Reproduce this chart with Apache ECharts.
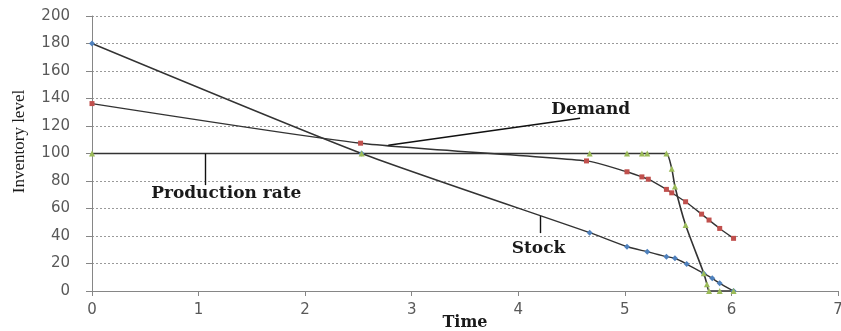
<!DOCTYPE html>
<html><head><meta charset="utf-8">
<script src="https://cdn.jsdelivr.net/npm/echarts@6/dist/echarts.min.js"></script>
<style>html,body{margin:0;padding:0;background:#fff}#c{width:841px;height:331px}</style>
</head><body><div id="c"></div>
<script>
// Data (Time, Inventory level)
const stockX = [0, 2.53, 4.67, 5.02, 5.21, 5.39, 5.47, 5.58, 5.74, 5.82, 5.89, 6.02];
const stockY = [180, 100, 42.4, 32.2, 28.6, 25, 23.8, 19.6, 12.8, 9.2, 5.6, 0];
const demandX = [0, 2.52, 4.64, 5.02, 5.16, 5.22, 5.39, 5.44, 5.57, 5.72, 5.79, 5.89, 6.02];
const demandY = [136.3, 107.5, 94.6, 86.7, 83, 81.3, 73.9, 71.4, 64.9, 55.9, 51.6, 45.5, 38.3];
const prodX = [0, 2.53, 4.67, 5.02, 5.16, 5.21, 5.39, 5.44, 5.47, 5.57, 5.74, 5.77, 5.79, 5.89, 6.02];
const prodY = [100, 100, 100, 100, 100, 100, 100, 89, 76, 48, 13, 5, 0, 0, 0];
const xTicks = [0, 1, 2, 3, 4, 5, 6, 7];
const yTicks = [0, 20, 40, 60, 80, 100, 120, 140, 160, 180, 200];
const labels = [
  {text: 'Demand', at: [4.68, 131.8], line: [[2.78, 106], [4.58, 125.6]]},
  {text: 'Production rate', at: [1.26, 71.2], line: [[1.06, 100], [1.06, 77]]},
  {text: 'Stock', at: [4.19, 31.2], line: [[4.21, 54.5], [4.21, 42.1]]}
];

const zip = (xs, ys) => xs.map((x, i) => [x, ys[i]]);
const serif = '"DejaVu Serif", "Liberation Serif", serif';
const lineCol = '#333333';

const chart = echarts.init(document.getElementById('c'));
chart.setOption({
  animation: false,
  grid: {left: 92, right: 3, top: 16, bottom: 40, containLabel: false, outerBoundsMode: 'none'},
  xAxis: {
    type: 'value', min: xTicks[0], max: xTicks[xTicks.length - 1], interval: 1,
    name: 'Time', nameLocation: 'middle', nameGap: 32, nameMoveOverlap: false,
    nameTextStyle: {fontFamily: serif, fontWeight: 'bold', fontSize: 16, color: '#1a1a1a', verticalAlign: 'middle'},
    axisLine: {lineStyle: {color: '#868686', width: 1}},
    axisTick: {show: true, length: 5, lineStyle: {color: '#868686'}},
    axisLabel: {fontFamily: '"DejaVu Sans", Verdana, sans-serif', fontSize: 15, color: '#595959', margin: 12},
    splitLine: {show: false}
  },
  yAxis: {
    type: 'value', min: yTicks[0], max: yTicks[yTicks.length - 1], interval: 20,
    name: 'Inventory level', nameLocation: 'middle', nameGap: 64, nameRotate: 90, nameMoveOverlap: false,
    nameTextStyle: {fontFamily: '"Liberation Serif", "DejaVu Serif", serif', fontSize: 17, color: '#1a1a1a', padding: [0, 0, 0, 24]},
    axisLine: {show: true, lineStyle: {color: '#868686', width: 1}},
    axisTick: {show: true, length: 6, lineStyle: {color: '#868686'}},
    axisLabel: {fontFamily: '"DejaVu Sans", Verdana, sans-serif', fontSize: 15, color: '#595959', margin: 22},
    splitLine: {show: true, lineStyle: {color: '#9a9a9a', type: [2, 2], width: 1}}
  },
  series: [
    {
      name: 'Stock', type: 'line', data: zip(stockX, stockY), smooth: 0.2,
      symbol: 'diamond', symbolSize: 6,
      lineStyle: {color: lineCol, width: 1.4}, itemStyle: {color: '#4f81bd'}
    },
    {
      name: 'Demand', type: 'line', data: zip(demandX, demandY), smooth: 0.2,
      symbol: 'rect', symbolSize: 5,
      lineStyle: {color: lineCol, width: 1.4}, itemStyle: {color: '#c0504d'}
    },
    {
      name: 'Production rate', type: 'line', data: zip(prodX, prodY), smooth: 0.2,
      symbol: 'triangle', symbolSize: 6,
      lineStyle: {color: lineCol, width: 1.6}, itemStyle: {color: '#9bbb59'}
    },
    {
      name: 'annotations', type: 'line', data: [], silent: true,
      markLine: {
        silent: true, symbol: 'none', animation: false,
        label: {show: false},
        lineStyle: {color: '#111', width: 1.4, type: 'solid'},
        data: labels.map(l => [{coord: l.line[0]}, {coord: l.line[1]}])
      },
      markPoint: {
        silent: true, symbol: 'circle', symbolSize: 1, itemStyle: {color: 'rgba(0,0,0,0)'},
        label: {show: true, position: 'inside', fontFamily: serif, fontWeight: 'bold', fontSize: 17, color: '#1a1a1a'},
        data: labels.map(l => ({coord: l.at, value: l.text, label: {formatter: l.text}}))
      }
    }
  ]
});
</script></body></html>
